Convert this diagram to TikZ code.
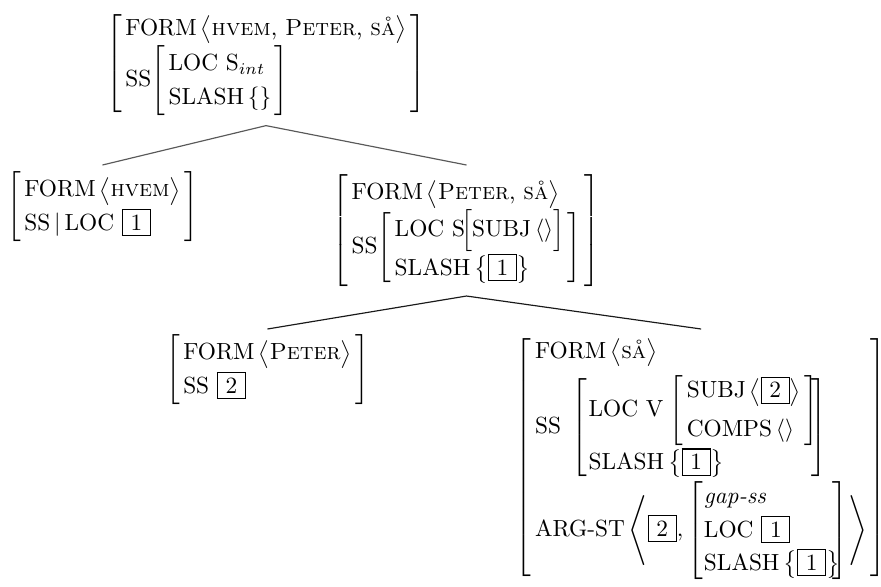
\documentclass[tikz,border=0pt]{standalone}
\usepackage{amsmath}
\usetikzlibrary{calc}

% attribute-value matrix helpers
\renewcommand{\arraystretch}{1.2}
\newcommand{\avm}[1]{\left[\begin{array}{@{\hspace{1.5pt}}l@{\hspace{1.5pt}}}#1\end{array}\right]}
% tall matrices get extensible brackets, whose right piece sits wide
\newcommand{\avmx}[1]{\left[\begin{array}{@{\hspace{0.5pt}}l@{\hspace{-3pt}}}#1\end{array}\right]}
\newcommand{\avmtag}[1]{{\setlength{\fboxsep}{2pt}\setlength{\fboxrule}{0.5pt}\fbox{\makebox[7.5pt]{#1}}}}
\newcommand{\attr}[1]{\text{#1}}

\tikzset{
  fs/.style={inner sep=0pt, outer sep=0pt},
  branch/.style={line width=0.5pt, black!65},
  branchdark/.style={line width=0.5pt, black!90},
}

\begin{document}
\begin{tikzpicture}[x=0.4285pt, y=-0.4285pt]
\useasboundingbox (0,0) rectangle (881,587);

% mother
\node[fs, anchor=north] (root) at (266,12) {$\avm{
  \attr{FORM}\,\bigl\langle\text{\textsc{hvem}, \textsc{Peter}, \textsc{så}}\bigr\rangle\\
  \attr{SS}\!\avm{\attr{LOC S}_{int}\\ \attr{SLASH}\,\{\}}
}$};

% daughters of the mother
\node[fs, anchor=north] (hvem) at (102.5,172) {$\avm{
  \attr{FORM}\,\bigl\langle\text{\textsc{hvem}}\bigr\rangle\\
  \attr{SS}\,|\,\attr{LOC}\ \avmtag{1}
}$};

\node[fs, anchor=north] (head) at (466.5,175) {$\avm{
  \attr{FORM}\,\bigl\langle\text{\textsc{Peter}, \textsc{så}}\bigr\rangle\\
  \attr{SS}\!\avm{\attr{LOC S}\!\Bigl[\attr{SUBJ}\,\langle\rangle\Bigr]\\ \attr{SLASH}\,\bigl\{\avmtag{1}\bigr\}}
}$};

% daughters of the head
\node[fs, anchor=north] (peter) at (267.5,335) {$\avm{
  \attr{FORM}\,\bigl\langle\text{\textsc{Peter}}\bigr\rangle\\
  \attr{SS}\ \avmtag{2}
}$};

\node[fs, anchor=north west] (saa) at (516,335) {$\avm{
  \attr{FORM}\,\bigl\langle\text{\textsc{så}}\bigr\rangle\\[2.5pt]
  \attr{SS}\hspace{3pt}\avmx{\attr{LOC V}\hspace{1pt}\avm{\attr{SUBJ}\,\bigl\langle\avmtag{2}\bigr\rangle\\[2pt] \attr{COMPS}\,\langle\rangle}\\[6.5pt] \attr{SLASH}\,\bigl\{\avmtag{1}\bigr\}}\\[5.5pt]
  \attr{ARG-ST}\left\langle\avmtag{2},\avmx{\textit{gap-ss}\\ \attr{LOC}\ \avmtag{1}\\ \attr{SLASH}\,\bigl\{\avmtag{1}\bigr\}}\right\rangle
}$};

% branch points
\coordinate (rootfoot) at ($(root.south)+(0,10)$);
\coordinate (hvemtop) at ($(hvem.north)+(0,-7)$);
\coordinate (headtop) at ($(head.north)+(0,-10)$);
\coordinate (headfoot) at ($(head.south)+(0,9)$);
\coordinate (petertop) at ($(peter.north)+(0,-6)$);
\coordinate (saatop) at ($(saa.north)+(0,-6)$);

\draw[branch] (hvemtop) -- (rootfoot) -- (headtop);
\draw[branchdark] (petertop) -- (headfoot) -- (saatop);
\end{tikzpicture}
\end{document}
